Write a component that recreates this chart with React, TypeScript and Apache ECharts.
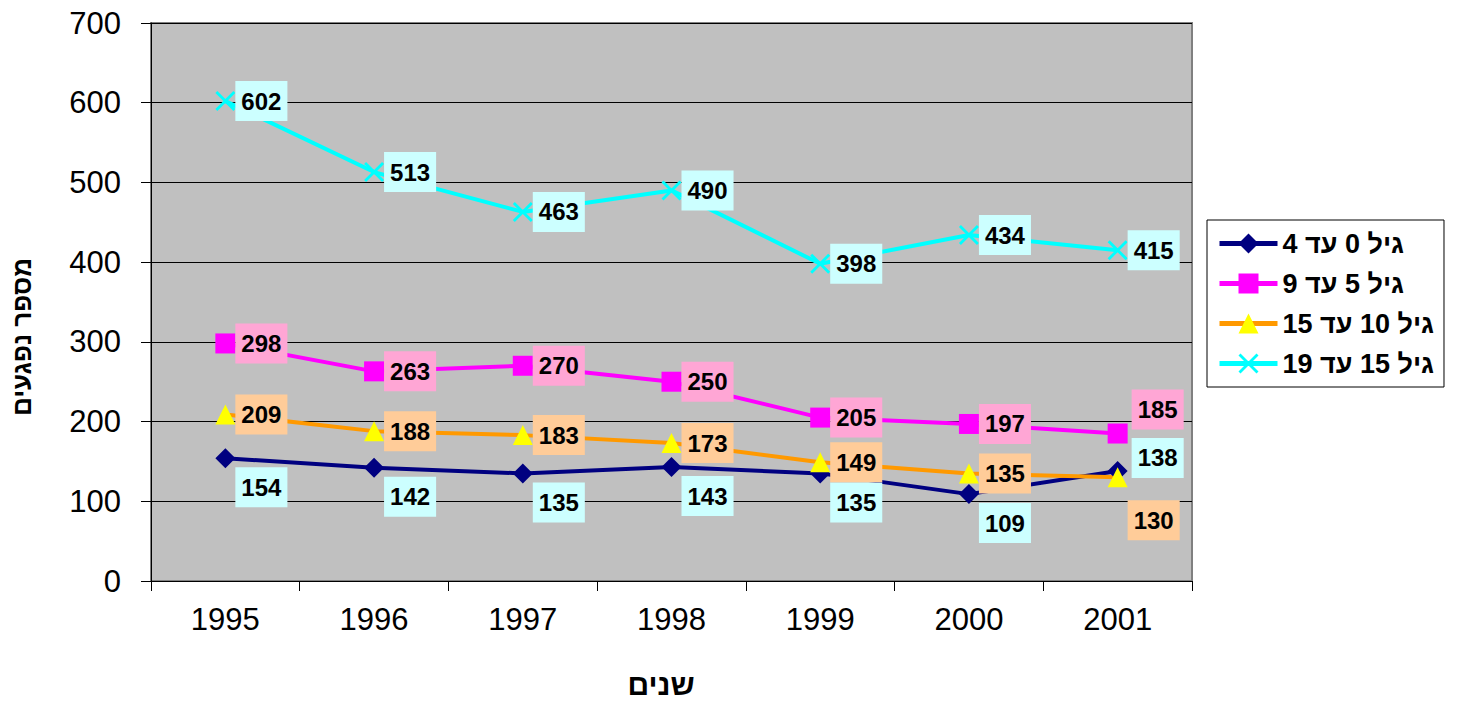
import React, { useEffect, useRef } from "react";
import * as echarts from "echarts";

const years = ["1995", "1996", "1997", "1998", "1999", "2000", "2001"];
const age0to4 = [154, 142, 135, 143, 135, 109, 138];
const age5to9 = [298, 263, 270, 250, 205, 197, 185];
const age10to15 = [209, 188, 183, 173, 149, 135, 130];
const age15to19 = [602, 513, 463, 490, 398, 434, 415];
const seriesNames = ["גיל 0 עד 4", "גיל 5 עד 9", "גיל 10 עד 15", "גיל 15 עד 19"];
const yTicks = { min: 0, max: 700, interval: 100 };
const xTitle = "שנים";
const yTitle = "מספר נפגעים";

const FONT = "Arial, 'Liberation Sans', 'DejaVu Sans', sans-serif";
const X_SYMBOL =
  "path://M0,2 L2,0 L10,8 L18,0 L20,2 L12,10 L20,18 L18,20 L10,12 L2,20 L0,18 L8,10 Z";

function labelBase(bg: string) {
  return {
    show: true,
    position: "right" as const,
    distance: 0,
    color: "#000",
    fontFamily: FONT,
    fontWeight: "bold" as const,
    fontSize: 24,
    lineHeight: 24,
    backgroundColor: bg,
    padding: [8, 6, 8, 6],
  };
}

function buildData(values: number[], offsets: Record<number, [number, number]>, def: [number, number]) {
  return values.map((v, i) => ({
    value: v,
    label: { offset: offsets[i] ?? def },
  }));
}

export default function App() {
  const ref = useRef<HTMLDivElement>(null);
  useEffect(() => {
    document.body.style.margin = "0";
    if (!ref.current) return;
    const chart = echarts.init(ref.current, null, { renderer: "svg" });
    chart.setOption({
      animation: false,
      backgroundColor: "#fff",
      textStyle: { fontFamily: FONT },
      grid: {
        left: 151,
        right: 270,
        top: 23,
        bottom: 121,
        show: true,
        backgroundColor: "#c0c0c0",
        borderColor: "#808080",
        borderWidth: 2,
      },
      legend: {
        orient: "vertical",
        left: 1207,
        top: 220,
        padding: [10, 10, 10, 10],
        itemGap: 13,
        itemWidth: 58,
        itemHeight: 25,
        backgroundColor: "#fff",
        borderColor: "#000",
        borderWidth: 1,
        lineStyle: { width: 5 },
        textStyle: {
          fontFamily: FONT,
          fontSize: 27,
          lineHeight: 27,
          fontWeight: "bold",
          color: "#000",
        },
        data: seriesNames,
      },
      xAxis: {
        type: "category",
        data: years,
        boundaryGap: true,
        axisLine: { lineStyle: { color: "#000", width: 1 } },
        axisTick: { show: true, length: 10, lineStyle: { color: "#000" } },
        axisLabel: { color: "#000", fontSize: 31, fontFamily: FONT, margin: 23 },
      },
      yAxis: {
        type: "value",
        min: yTicks.min,
        max: yTicks.max,
        interval: yTicks.interval,
        axisLine: { show: true, lineStyle: { color: "#000", width: 1 } },
        axisTick: { show: true, length: 10, lineStyle: { color: "#000" } },
        axisLabel: { color: "#000", fontSize: 31, fontFamily: FONT, margin: 30 },
        splitLine: { show: true, lineStyle: { color: "#000", width: 1 } },
      },
      graphic: [
        {
          type: "text",
          x: 661,
          y: 684,
          style: {
            text: xTitle,
            fill: "#000",
            font: `bold 30px ${FONT}`,
            textAlign: "center",
            textVerticalAlign: "middle",
          },
        },
        {
          type: "text",
          x: 22,
          y: 337,
          rotation: Math.PI / 2,
          style: {
            text: yTitle,
            fill: "#000",
            font: `bold 26px ${FONT}`,
            textAlign: "center",
            textVerticalAlign: "middle",
          },
        },
      ],
      series: [
        {
          name: seriesNames[0],
          type: "line",
          data: buildData(age0to4, { 6: [4, -13] }, [0, 29]),
          symbol: "diamond",
          symbolSize: 20,
          lineStyle: { color: "#000080", width: 4 },
          itemStyle: { color: "#000080" },
          label: labelBase("#ccffff"),
          z: 3,
        },
        {
          name: seriesNames[1],
          type: "line",
          data: buildData(age5to9, { 6: [4, -24] }, [0, 0]),
          symbol: "rect",
          symbolSize: 20,
          lineStyle: { color: "#ff00ff", width: 4 },
          itemStyle: { color: "#ff00ff" },
          label: labelBase("#ffa6d5"),
          z: 3,
        },
        {
          name: seriesNames[2],
          type: "line",
          data: buildData(age10to15, { 6: [0, 43] }, [0, 0]),
          symbol: "triangle",
          symbolSize: 20,
          lineStyle: { color: "#ff9900", width: 4 },
          itemStyle: { color: "#ffff00" },
          label: labelBase("#ffcc99"),
          z: 3,
        },
        {
          name: seriesNames[3],
          type: "line",
          data: buildData(age15to19, {}, [0, 0]),
          symbol: X_SYMBOL,
          symbolSize: 20,
          lineStyle: { color: "#00ffff", width: 4 },
          itemStyle: { color: "#00ffff" },
          label: labelBase("#ccffff"),
          z: 3,
        },
      ],
    });
    return () => chart.dispose();
  }, []);
  return <div ref={ref} style={{ width: 1462, height: 702 }} />;
}
